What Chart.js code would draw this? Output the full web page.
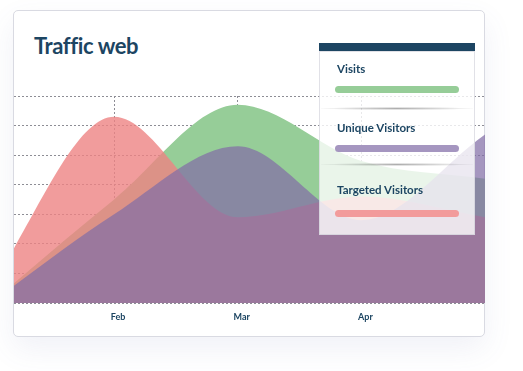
<!DOCTYPE html>
<html>
<head>
<meta charset="utf-8">
<script src="https://cdn.jsdelivr.net/npm/chart.js@4.4.1/dist/chart.umd.min.js"></script>
<style>
  html, body { margin: 0; padding: 0; background: #fff; }
  body { width: 523px; height: 371px; position: relative; overflow: hidden; font-family: Lato, "Noto Sans", sans-serif; }
  .card {
    position: absolute; left: 13px; top: 10px; width: 470px; height: 325px;
    background: #fff; border: 1px solid #d9dae2; border-radius: 5px;
    box-shadow: 0 12px 30px rgba(90, 100, 170, 0.09);
  }
  .title {
    position: absolute; left: 34px; top: 35px; margin: 0;
    font-size: 22px; line-height: 22px; font-weight: 700; letter-spacing: -0.4px;
    color: #1c4562;
  }
  .plot { position: absolute; left: 14px; top: 90px; width: 471px; height: 240px; }
  .legend {
    position: absolute; left: 319px; top: 51px; width: 156px; height: 184px;
    background: rgba(255, 255, 255, 0.8);
    box-shadow: inset 0 0 0 1px rgba(200, 200, 212, 0.55);
  }
  .legend .head { position: absolute; left: 0; top: -8px; width: 156px; height: 8px; background: #1d4562; }
  .legend .name {
    position: absolute; left: 18px; font-size: 11.5px; line-height: 11.5px; font-weight: 700; color: #1c4562;
  }
  .legend .bar { position: absolute; left: 16px; width: 124px; height: 7px; border-radius: 4px; }
  .legend .rule {
    position: absolute; left: 2px; width: 152px; height: 3px;
    background: radial-gradient(ellipse at center, rgba(0,0,0,0.32) 0%, rgba(0,0,0,0.08) 55%, rgba(0,0,0,0) 75%);
  }
</style>
</head>
<body>
<div class="card"></div>
<h1 class="title">Traffic web</h1>
<div class="plot"><canvas id="traffic"></canvas></div>
<div class="legend">
  <div class="head"></div>
  <div class="name" style="top:12px">Visits</div>
  <div class="bar" style="top:35px;background:#96cd98"></div>
  <div class="rule" style="top:56px"></div>
  <div class="name" style="top:71px">Unique Visitors</div>
  <div class="bar" style="top:94px;background:#a596c0"></div>
  <div class="rule" style="top:112px"></div>
  <div class="name" style="top:133px">Targeted Visitors</div>
  <div class="bar" style="top:159px;background:#f29b9b"></div>
</div>
<script>
// month index on the x axis: Jan = 0 ... May = 4
const months = [0, 1, 2, 3, 4];
const tickLabels = ['Jan', 'Feb', 'Mar', 'Apr', ''];

const visits = [0, 35, 67, 48, 42];
const uniqueVisitors = [0, 30, 53, 28, 57];
const targetedVisitors = [6, 63, 29, 36, 29];

function points(values) {
  return values.map(function (v, i) { return { x: months[i], y: v }; });
}

function area(label, values, color, order) {
  return {
    label: label,
    data: points(values),
    fill: 'origin',
    backgroundColor: color,
    borderWidth: 0,
    pointRadius: 0,
    cubicInterpolationMode: 'monotone',
    order: order
  };
}

const gridStyle = { color: '#8d8d95', lineWidth: 1, drawTicks: false };

new Chart(document.getElementById('traffic'), {
  type: 'line',
  data: {
    datasets: [
      area('Visits', visits, 'rgba(150, 205, 152, 1)', 2),
      area('Unique Visitors', uniqueVisitors, 'rgba(130, 109, 166, 0.72)', 0),
      area('Targeted Visitors', targetedVisitors, 'rgba(238, 131, 131, 0.8)', 1)
    ]
  },
  options: {
    responsive: true,
    maintainAspectRatio: false,
    animation: false,
    layout: { padding: { top: 6, left: 0, right: 0, bottom: 0 } },
    plugins: { legend: { display: false }, tooltip: { enabled: false } },
    scales: {
      x: {
        type: 'linear',
        min: 0.19,
        max: 4,
        afterBuildTicks: function (axis) {
          axis.ticks = [1, 2, 3, 4].map(function (v) { return { value: v }; });
        },
        afterFit: function (axis) {
          axis.paddingLeft = 0;
          axis.paddingRight = 0;
          axis.height = 27;
        },
        ticks: {
          padding: 9,
          labelOffset: 4,
          color: '#1c4562',
          font: { family: 'Lato', size: 9, weight: 'bold' },
          maxRotation: 0,
          callback: function (v) { return tickLabels[v]; }
        },
        grid: gridStyle,
        border: { display: false, dash: [2, 2] }
      },
      y: {
        min: 0,
        max: 70,
        ticks: { display: false, stepSize: 10 },
        afterFit: function (axis) {
          axis.width = 0;
          axis.paddingTop = 0;
          axis.paddingBottom = 0;
        },
        grid: gridStyle,
        border: { display: false, dash: [2, 2] }
      }
    }
  }
});
</script>
</body>
</html>
